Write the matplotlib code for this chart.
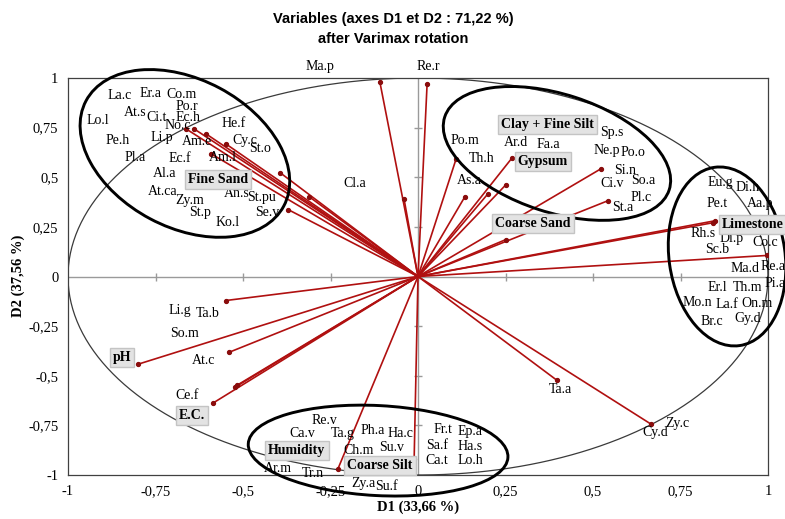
import numpy as np
import matplotlib
matplotlib.use("Agg")
import matplotlib.pyplot as plt
from matplotlib.patches import Ellipse
from matplotlib.transforms import Affine2D

# ---------------- data ----------------
# variable loadings (arrow tips) on D1 / D2 after Varimax
load_d1 = [-0.663, -0.640, -0.606, -0.549, -0.591, -0.394, -0.311, -0.371,
           -0.109, -0.040, 0.026,
           0.109, 0.134, 0.269, 0.251, 0.200, 0.523, 0.543, 0.251, 0.849, 0.843, 0.997,
           -0.549, -0.800, -0.540, -0.517, -0.523, -0.586,
           -0.229, -0.011, 0.397, 0.666]
load_d2 = [0.744, 0.744, 0.719, 0.668, 0.618, 0.523, 0.402, 0.337,
           0.980, 0.392, 0.970,
           0.593, 0.402, 0.598, 0.462, 0.417, 0.543, 0.382, 0.186, 0.281, 0.271, 0.106,
           -0.121, -0.442, -0.382, -0.548, -0.558, -0.638,
           -0.970, -0.920, -0.523, -0.744]

# species labels
species = ["La.c", "Er.a", "Co.m", "At.s", "Po.r", "Ci.t", "Ec.h", "Lo.l", "No.c", "He.f",
           "Pe.h", "Li.p", "Am.e", "Cy.c", "St.o", "Pl.a", "Ec.f", "Am.l", "Al.a", "At.ca",
           "Zy.m", "An.s", "St.pu", "St.p", "Se.v", "Ko.l", "Cl.a",
           "Ma.p", "Re.r",
           "Sp.s", "Po.m", "Ar.d", "Fa.a", "Ne.p", "Po.o", "Th.h", "Si.n", "As.a", "Ci.v",
           "So.a", "Pl.c", "St.a",
           "Eu.g", "Di.h", "Pe.t", "Aa.p", "Rh.s", "Di.p", "Co.c", "Sc.b", "Ma.d", "Re.a",
           "Er.l", "Th.m", "Pi.a", "Mo.n", "La.f", "On.m", "Br.c", "Gy.d",
           "Li.g", "Ta.b", "So.m", "At.c", "Ce.f",
           "Re.v", "Ca.v", "Ta.g", "Ph.a", "Ha.c", "Ch.m", "Su.v", "Ar.m", "Tr.n", "Zy.a",
           "Su.f", "Fr.t", "Ep.a", "Sa.f", "Ha.s", "Ca.t", "Lo.h", "Ta.a", "Cy.d", "Zy.c"]
species_x = [-0.851, -0.763, -0.677, -0.809, -0.660, -0.746, -0.657, -0.914, -0.686, -0.526,
             -0.857, -0.731, -0.631, -0.494, -0.451, -0.809, -0.680, -0.557, -0.723, -0.729,
             -0.651, -0.517, -0.446, -0.623, -0.431, -0.543, -0.180,
             -0.280, 0.029,
             0.554, 0.134, 0.280, 0.371, 0.540, 0.614, 0.183, 0.591, 0.146, 0.554,
             0.643, 0.637, 0.586,
             0.863, 0.943, 0.854, 0.977, 0.814, 0.897, 0.991, 0.854, 0.934, 1.014,
             0.854, 0.943, 1.020, 0.797, 0.883, 0.969, 0.840, 0.943,
             -0.680, -0.600, -0.666, -0.614, -0.660,
             -0.266, -0.331, -0.214, -0.129, -0.051, -0.171, -0.074, -0.400, -0.300, -0.157,
             -0.089, 0.071, 0.149, 0.054, 0.149, 0.054, 0.149, 0.406, 0.677, 0.740]
species_y = [0.912, 0.922, 0.917, 0.826, 0.856, 0.801, 0.801, 0.786, 0.761, 0.771,
             0.685, 0.700, 0.680, 0.685, 0.645, 0.599, 0.594, 0.599, 0.519, 0.428,
             0.383, 0.418, 0.398, 0.322, 0.322, 0.272, 0.469,
             1.058, 1.058,
             0.725, 0.685, 0.675, 0.665, 0.635, 0.625, 0.594, 0.534, 0.484, 0.469,
             0.484, 0.398, 0.348,
             0.474, 0.448, 0.368, 0.368, 0.217, 0.191, 0.171, 0.136, 0.040, 0.050,
             -0.055, -0.055, -0.035, -0.131, -0.141, -0.136, -0.227, -0.212,
             -0.171, -0.186, -0.287, -0.423, -0.599,
             -0.725, -0.791, -0.791, -0.776, -0.791, -0.877, -0.861, -0.967, -0.992, -1.043,
             -1.058, -0.771, -0.781, -0.851, -0.856, -0.927, -0.927, -0.569, -0.786, -0.741]

# environmental variable labels (grey boxes)
env_vars = ["Fine Sand", "Clay + Fine Silt", "Gypsum", "Coarse Sand", "Limestone",
            "pH", "E.C.", "Humidity", "Coarse Silt"]
env_x = [-0.571, 0.371, 0.357, 0.329, 0.957, -0.846, -0.646, -0.346, -0.109]
env_y = [0.489, 0.766, 0.579, 0.267, 0.262, -0.408, -0.700, -0.877, -0.952]

# group ellipses: centre (D1, D2), size in pixels, angle
ell_cx = [-0.666, 0.397, 0.883, -0.114]
ell_cy = [0.620, 0.620, 0.101, -0.877]
ell_w = [224, 236, 116, 260]
ell_h = [148, 118, 180, 90]
ell_ang = [-28, -18, 8, -3]

tick_vals = [-1, -0.75, -0.5, -0.25, 0, 0.25, 0.5, 0.75, 1]
tick_labels = ["-1", "-0,75", "-0,5", "-0,25", "0", "0,25", "0,5", "0,75", "1"]

# ---------------- figure ----------------
SERIF = ["Liberation Serif", "DejaVu Serif"]
FS = 10
fig = plt.figure(figsize=(7.85, 5.19), dpi=100)
ax = fig.add_axes([68 / 785, 1 - 475 / 519, 700 / 785, 397 / 519])
ax.set_xlim(-1, 1)
ax.set_ylim(-1, 1)

for s in ax.spines.values():
    s.set_color("#404040")
    s.set_linewidth(0.9)

ax.set_xticks(tick_vals)
ax.set_xticklabels(tick_labels, fontfamily=SERIF, fontsize=10.5)
ax.set_yticks(tick_vals)
ax.set_yticklabels(tick_labels, fontfamily=SERIF, fontsize=10.5)
ax.tick_params(length=0, pad=7)

# inner axes with tick marks
ax.axhline(0, color="#9a9a9a", lw=1.0, zorder=1)
ax.axvline(0, color="#9a9a9a", lw=1.0, zorder=1)
ax.plot(tick_vals[1:-1], [0] * 7, ls="none", marker="|", ms=6, color="#9a9a9a", mew=1.0, zorder=1)
ax.plot([0] * 7, tick_vals[1:-1], ls="none", marker="_", ms=6, color="#9a9a9a", mew=1.0, zorder=1)

# correlation circle
t = np.linspace(0, 2 * np.pi, 400)
ax.plot(np.cos(t), np.sin(t), color="#3a3a3a", lw=0.9, zorder=2)

# arrows
red = "#B01010"
for xv, yv in zip(load_d1, load_d2):
    ax.plot([0, xv], [0, yv], color=red, lw=1.2, zorder=3, solid_capstyle="round")
ax.plot(load_d1, load_d2, ls="none", marker="o", ms=2.8, color="#8a0c0c", zorder=4)

# ellipses (drawn in pixel-proportional space)
pix = Affine2D().scale(1 / 350, 1 / 198.5) + ax.transData
for cx, cy, w, h, a in zip(ell_cx, ell_cy, ell_w, ell_h, ell_ang):
    e = Ellipse((cx * 350, cy * 198.5), w, h, angle=a, fill=False, ec="black",
                lw=2.1, transform=pix, clip_on=False, zorder=5)
    ax.add_patch(e)

# species labels
for name, xv, yv in zip(species, species_x, species_y):
    ax.text(xv, yv, name, ha="center", va="center", fontfamily=SERIF, fontsize=FS,
            color="black", zorder=6, clip_on=False)

# environmental variable labels
for name, xv, yv in zip(env_vars, env_x, env_y):
    ax.text(xv, yv, name, ha="center", va="center", fontfamily=SERIF, fontsize=FS,
            fontweight="bold", color="black", zorder=7, clip_on=False,
            bbox=dict(boxstyle="square,pad=0.22", facecolor="#e3e3e3", edgecolor="#c4c4c4", lw=1))

# titles and axis labels
TITLE = ["Liberation Sans Narrow", "Liberation Sans", "DejaVu Sans"]
fig.text(393 / 785, 1 - 19 / 519, "Variables (axes D1 et D2 : 71,22 %)", ha="center", va="center",
         fontfamily=TITLE, fontweight="bold", fontsize=10.5)
fig.text(393 / 785, 1 - 39 / 519, "after Varimax rotation", ha="center", va="center",
         fontfamily=TITLE, fontweight="bold", fontsize=10.5)
fig.text(418 / 785, 1 - 507 / 519, "D1 (33,66 %)", ha="center", va="center",
         fontfamily=SERIF, fontweight="bold", fontsize=10.5)
fig.text(18 / 785, 1 - 276 / 519, "D2 (37,56 %)", ha="center", va="center", rotation=90,
         fontfamily=SERIF, fontweight="bold", fontsize=10.5)

fig.savefig("out.png", dpi=100)
